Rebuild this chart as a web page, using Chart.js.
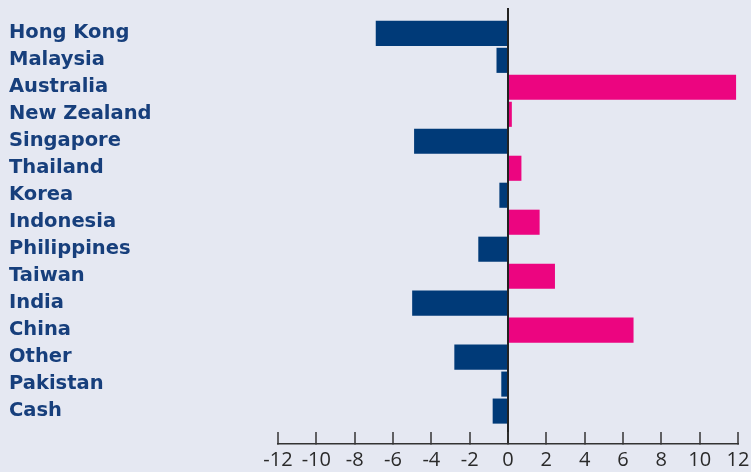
<!DOCTYPE html>
<html>
<head>
<meta charset="utf-8">
<script src="https://cdn.jsdelivr.net/npm/chart.js@4"></script>
<style>
  body { margin: 0; background: #e5e8f2; }
  #wrap { width: 751px; height: 472px; }
</style>
</head>
<body>
<div id="wrap"><canvas id="chart" width="751" height="472"></canvas></div>
<script>
const countries = ['Hong Kong', 'Malaysia', 'Australia', 'New Zealand', 'Singapore', 'Thailand', 'Korea',
    'Indonesia', 'Philippines', 'Taiwan', 'India', 'China', 'Other', 'Pakistan', 'Cash'];
const weights = [-6.9, -0.6, 11.9, 0.2, -4.9, 0.7, -0.45, 1.65, -1.55, 2.45, -5.0, 6.55, -2.8, -0.35, -0.8];
const xTicks = [-12, -10, -8, -6, -4, -2, 0, 2, 4, 6, 8, 10, 12];

const navy = '#003a78';
const pink = '#ec0580';

function initChart() {
    const ctx = document.getElementById('chart').getContext('2d');
    new Chart(ctx, {
        type: 'bar',
        data: {
            datasets: [{
                data: weights.map((v, i) => ({ x: v, y: i })),
                backgroundColor: weights.map(v => v < 0 ? navy : pink),
                borderWidth: 0,
                barPercentage: 0.93,
                categoryPercentage: 1
            }]
        },
        options: {
            indexAxis: 'y',
            responsive: false,
            animation: false,
            layout: { padding: { top: 8, left: 9, right: 13, bottom: 0 } },
            plugins: { legend: { display: false }, tooltip: { enabled: false } },
            scales: {
                x: {
                    type: 'linear',
                    min: xTicks[0],
                    max: xTicks[xTicks.length - 1],
                    afterBuildTicks: s => { s.ticks = xTicks.map(v => ({ value: v })); },
                    afterFit: s => {
                        s.height = 28;
                        s.paddingLeft = 0;
                        s.paddingRight = 0;
                    },
                    grid: {
                        color: c => c.tick && c.tick.value === 0 ? '#222' : 'transparent',
                        lineWidth: 2,
                        drawTicks: true,
                        tickLength: -12,
                        tickColor: '#333',
                        tickWidth: 1.5
                    },
                    border: { display: true, color: '#333', width: 1.5 },
                    ticks: {
                        autoSkip: false,
                        maxRotation: 0,
                        padding: 16,
                        color: '#2a2a2a',
                        font: { family: 'Open Sans', size: 20 }
                    }
                },
                y: {
                    type: 'linear',
                    reverse: true,
                    offset: false,
                    min: -0.94,
                    max: 15.22,
                    afterBuildTicks: s => { s.ticks = countries.map((c, i) => ({ value: i })); },
                    afterFit: s => {
                        s.width = 269;
                        s.paddingTop = 0;
                        s.paddingBottom = 0;
                    },
                    grid: { display: false, offset: false },
                    border: { display: false },
                    ticks: {
                        autoSkip: false,
                        crossAlign: 'far',
                        padding: 0,
                        color: '#173f7c',
                        font: { family: 'DejaVu Sans', size: 19.5, weight: 'bold' },
                        callback: v => countries[v]
                    }
                }
            }
        }
    });
}

document.addEventListener('DOMContentLoaded', initChart);
</script>
</body>
</html>
